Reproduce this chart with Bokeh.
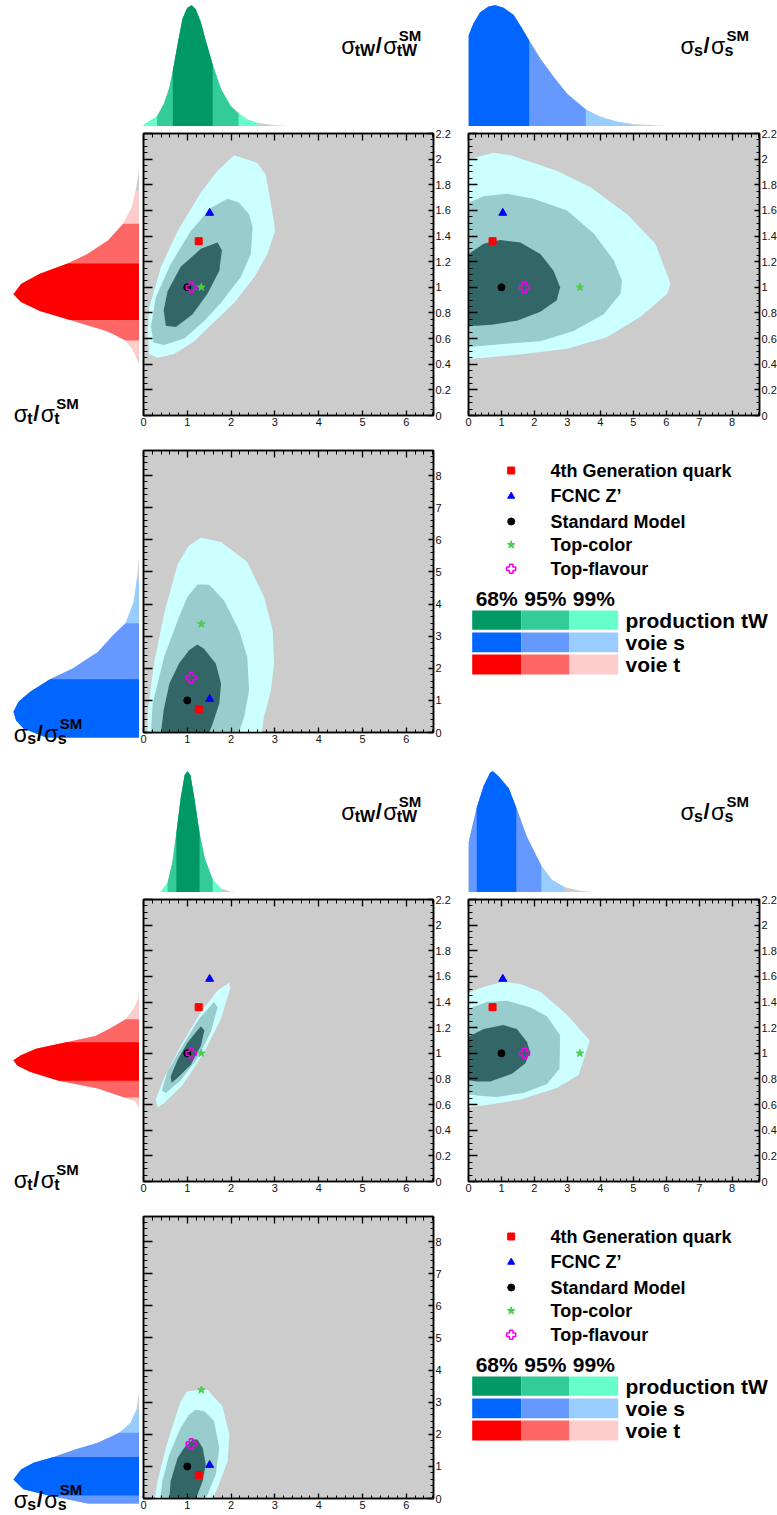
import numpy as np
from bokeh.plotting import figure
from bokeh.layouts import column, row
from bokeh.models import Range1d, LinearAxis, FixedTicker, CustomJSTickFormatter, Label, Spacer
from bokeh.embed import file_html
from bokeh.resources import INLINE
from bokeh.core.properties import value

FONT = "Liberation Sans"

# ---------------- data ----------------
model_names = ["4th Generation quark", "FCNC Z\u2019", "Standard Model", "Top-color", "Top-flavour"]
model_tw = [1.26, 1.51, 1.00, 1.32, 1.09]
model_t = [1.36, 1.58, 1.00, 1.00, 1.00]
model_s = [0.73, 1.04, 1.00, 3.38, 1.70]

conf_levels = ["68%", "95%", "99%"]
channel_names = ["production tW", "voie s", "voie t"]

# contours, top half (x, y) pairs
h1_tw_t_99 = [(2.07, 2.03), (2.60, 1.97), (2.79, 1.88), (2.98, 1.51), (3.00, 1.44), (2.83, 1.26), (2.53, 1.08),
              (2.07, 0.88), (1.61, 0.73), (1.16, 0.58), (0.70, 0.48), (0.32, 0.45), (0.13, 0.48), (0.09, 0.64),
              (0.13, 0.84), (0.40, 1.16), (0.78, 1.44), (1.31, 1.74), (1.69, 1.91)]
h1_tw_t_95 = [(1.92, 1.69), (2.18, 1.66), (2.41, 1.57), (2.49, 1.47), (2.45, 1.26), (2.22, 1.08), (1.77, 0.88),
              (1.39, 0.74), (0.93, 0.60), (0.47, 0.55), (0.23, 0.57), (0.17, 0.69), (0.28, 0.92), (0.62, 1.18),
              (1.08, 1.44), (1.54, 1.62)]
h1_tw_t_68 = [(1.69, 1.35), (1.79, 1.29), (1.73, 1.13), (1.46, 0.95), (1.12, 0.79), (0.74, 0.69), (0.51, 0.70),
              (0.46, 0.82), (0.55, 0.97), (0.85, 1.16), (1.31, 1.30)]
h1_s_t_99 = [(0, 0.44), (0, 2.00), (0.76, 2.05), (1.27, 2.03), (2.68, 1.91), (3.70, 1.78), (4.81, 1.57),
             (5.67, 1.34), (6.13, 1.03), (6.03, 0.95), (5.22, 0.77), (4.20, 0.61), (2.99, 0.52), (1.67, 0.48),
             (0.46, 0.45)]
h1_s_t_95 = [(0, 0.53), (0, 1.66), (0.46, 1.71), (1.16, 1.73), (1.97, 1.69), (2.99, 1.60), (3.80, 1.42),
             (4.41, 1.21), (4.66, 1.05), (4.61, 0.95), (4.10, 0.79), (3.19, 0.66), (2.18, 0.58), (1.16, 0.56),
             (0.25, 0.54)]
h1_s_t_68 = [(0, 0.70), (0, 1.26), (0.46, 1.34), (0.96, 1.37), (1.57, 1.35), (2.18, 1.26), (2.58, 1.13),
             (2.78, 1.00), (2.68, 0.90), (2.18, 0.81), (1.47, 0.74), (0.76, 0.71), (0.25, 0.70)]
h1_tw_s_99 = [(1.31, 6.06), (1.77, 5.93), (2.37, 5.31), (2.75, 4.22), (2.95, 3.18), (2.98, 2.15), (2.91, 1.32),
              (2.75, 0.49), (2.70, 0), (0.09, 0), (0.09, 0.59), (0.24, 2.15), (0.47, 3.70), (0.78, 5.25),
              (1.04, 5.82)]
h1_tw_s_95 = [(1.23, 4.61), (1.50, 4.60), (1.84, 4.11), (2.18, 3.18), (2.37, 2.35), (2.41, 1.32), (2.30, 0.49),
              (2.18, 0), (0.17, 0), (0.21, 0.90), (0.47, 2.35), (0.78, 3.49), (1.00, 4.22)]
h1_tw_s_68 = [(1.23, 2.74), (1.38, 2.61), (1.65, 2.15), (1.77, 1.52), (1.73, 0.90), (1.58, 0.28), (1.50, 0),
              (0.40, 0), (0.46, 0.69), (0.59, 1.52), (0.81, 2.15), (1.04, 2.56)]

# contours, bottom half
h2_tw_t_99 = [(1.96, 1.55), (1.98, 1.51), (1.77, 1.27), (1.39, 1.01), (0.89, 0.75), (0.47, 0.61), (0.32, 0.58),
              (0.28, 0.64), (0.47, 0.81), (0.85, 1.06), (1.31, 1.32), (1.69, 1.49)]
h2_tw_t_95 = [(1.61, 1.40), (1.69, 1.36), (1.54, 1.17), (1.23, 0.96), (0.85, 0.79), (0.51, 0.69), (0.42, 0.71),
              (0.55, 0.86), (0.89, 1.06), (1.27, 1.27)]
h2_tw_t_68 = [(1.31, 1.21), (1.39, 1.18), (1.31, 1.06), (1.08, 0.91), (0.78, 0.81), (0.64, 0.77), (0.62, 0.82),
              (0.78, 0.95), (1.00, 1.08), (1.23, 1.18)]
h2_s_t_99 = [(0, 0.58), (0, 1.47), (0.35, 1.51), (1.06, 1.56), (1.57, 1.54), (2.18, 1.48), (2.99, 1.30),
             (3.68, 1.10), (3.34, 0.83), (2.68, 0.73), (1.57, 0.64), (0.66, 0.60)]
h2_s_t_95 = [(0, 0.68), (0, 1.35), (0.56, 1.40), (1.16, 1.41), (1.87, 1.36), (2.38, 1.29), (2.78, 1.14),
             (2.76, 0.88), (2.38, 0.76), (1.67, 0.69), (0.86, 0.66), (0.25, 0.67)]
h2_s_t_68 = [(0, 0.79), (0, 1.13), (0.46, 1.19), (1.06, 1.22), (1.47, 1.19), (1.77, 1.09), (1.87, 1.01),
             (1.72, 0.92), (1.32, 0.84), (0.66, 0.78), (0.25, 0.78)]
h2_tw_s_99 = [(1.00, 3.34), (1.46, 3.39), (1.80, 2.87), (1.96, 1.99), (1.92, 1.16), (1.69, 0.33), (1.58, 0),
              (0.26, 0), (0.32, 0.54), (0.51, 1.58), (0.70, 2.41), (0.85, 3.03)]
h2_tw_s_95 = [(1.19, 2.77), (1.39, 2.72), (1.61, 2.41), (1.73, 1.58), (1.65, 0.75), (1.46, 0.12), (1.40, 0),
              (0.38, 0), (0.43, 0.54), (0.59, 1.37), (0.85, 2.20), (1.04, 2.61)]
h2_tw_s_68 = [(1.12, 1.84), (1.23, 1.84), (1.35, 1.58), (1.42, 1.06), (1.35, 0.54), (1.23, 0.12), (1.19, 0),
              (0.59, 0), (0.62, 0.54), (0.78, 1.27), (0.93, 1.58)]

# marginal distributions (position, relative density), intervals 99/95/68
h1_tw_pos = [0.00, 0.31, 0.47, 0.59, 0.67, 0.78, 0.89, 1.00, 1.10, 1.19, 1.31, 1.42, 1.58, 1.77, 1.99, 2.17, 2.37, 2.62, 2.98, 3.30, 3.60]
h1_tw_dens = [0.015, 0.085, 0.19, 0.32, 0.46, 0.68, 0.89, 0.98, 1.00, 0.97, 0.86, 0.71, 0.51, 0.31, 0.17, 0.11, 0.058, 0.028, 0.010, 0.004, 0.0]
h1_tw_bands = [(0.00, 2.62), (0.31, 2.17), (0.67, 1.58)]

h1_t_pos = [0.45, 0.51, 0.58, 0.64, 0.71, 0.80, 0.87, 0.94, 1.00, 1.08, 1.16, 1.24, 1.31, 1.42, 1.55, 1.68, 1.81, 1.94, 2.06]
h1_t_dens = [0.0, 0.026, 0.06, 0.11, 0.25, 0.55, 0.79, 0.94, 1.00, 0.94, 0.79, 0.57, 0.42, 0.25, 0.13, 0.06, 0.03, 0.008, 0.0]
h1_t_bands = [(0.51, 1.81), (0.64, 1.55), (0.80, 1.24)]

h1_s_pos = [0.00, 0.15, 0.35, 0.61, 0.81, 1.06, 1.37, 1.62, 1.84, 2.18, 2.58, 2.99, 3.56, 4.00, 4.51, 4.96, 5.72, 6.43]
h1_s_dens = [0.75, 0.85, 0.94, 0.99, 1.00, 0.98, 0.92, 0.81, 0.71, 0.56, 0.41, 0.27, 0.14, 0.08, 0.04, 0.02, 0.008, 0.0]
h1_s_bands = [(0.00, 4.96), (0.00, 3.56), (0.00, 1.84)]

h1_sl_pos = [0.00, 0.28, 0.54, 0.80, 1.11, 1.42, 1.81, 2.15, 2.66, 3.18, 3.56, 4.22, 4.95, 5.77]
h1_sl_dens = [0.74, 0.92, 0.98, 1.00, 0.96, 0.87, 0.71, 0.53, 0.33, 0.21, 0.11, 0.046, 0.02, 0.0]
h1_sl_bands = [(0.00, 4.95), (0.00, 3.56), (0.00, 1.81)]

h2_tw_pos = [0.36, 0.40, 0.55, 0.66, 0.75, 0.85, 0.94, 1.00, 1.07, 1.16, 1.28, 1.40, 1.58, 1.77, 1.99, 2.22]
h2_tw_dens = [0.0, 0.01, 0.08, 0.25, 0.49, 0.78, 0.97, 1.00, 0.97, 0.78, 0.49, 0.28, 0.105, 0.034, 0.008, 0.0]
h2_tw_bands = [(0.40, 1.77), (0.55, 1.58), (0.75, 1.28)]

h2_t_pos = [0.60, 0.64, 0.68, 0.71, 0.78, 0.84, 0.91, 0.96, 1.00, 1.04, 1.09, 1.14, 1.19, 1.25, 1.32, 1.40, 1.48, 1.58]
h2_t_dens = [0.0, 0.01, 0.033, 0.12, 0.33, 0.64, 0.87, 0.97, 1.00, 0.94, 0.82, 0.58, 0.35, 0.23, 0.11, 0.046, 0.01, 0.0]
h2_t_bands = [(0.64, 1.48), (0.71, 1.32), (0.84, 1.14)]

h2_s_pos = [0.00, 0.25, 0.46, 0.66, 0.74, 0.91, 1.22, 1.45, 1.77, 2.21, 2.53, 2.91, 3.39, 4.00]
h2_s_dens = [0.41, 0.70, 0.88, 0.99, 1.00, 0.96, 0.86, 0.70, 0.46, 0.22, 0.105, 0.045, 0.013, 0.0]
h2_s_bands = [(0.00, 2.91), (0.00, 2.21), (0.25, 1.45)]

h2_sl_pos = [0.00, 0.25, 0.44, 0.75, 1.06, 1.27, 1.45, 1.68, 1.89, 2.20, 2.51, 2.90, 3.34, 3.76]
h2_sl_dens = [0.41, 0.72, 0.92, 1.00, 0.94, 0.84, 0.68, 0.51, 0.33, 0.16, 0.072, 0.026, 0.008, 0.0]
h2_sl_bands = [(0.00, 2.90), (0.00, 2.20), (0.25, 1.45)]

# ---------------- styles / layout ----------------
CONT = ["#ccffff", "#99cccc", "#336666"]          # 99, 95, 68
GREEN = ["#66ffcc", "#33cc99", "#009966"]
BLUE = ["#99ccff", "#6699ff", "#0066ff"]
RED = ["#ffcccc", "#ff6666", "#ff0000"]
TAIL = "#cccccc"

W0 = 139
FW1, BL1, BR1 = 290, 4, 31
FW2, BL2, BR2 = 291, 4, 18
FH = 282
HA = 126
BT_B, BB_B = 7, 30
BT_C, BB_C = 5, 14
GAP = 20

TW_MAX, S_MAX, T_MAX, SY_MAX = 6.62, 8.83, 2.2, 8.78
PEAK_PAD = 1.04          # density axis head-room of the marginal plots
SIDE_PEAK_PX = 13        # left marginal plots: peak distance from left edge

LABEL_FMT = CustomJSTickFormatter(code="return String(Math.round(tick*10)/10);")
HIDE_FMT = CustomJSTickFormatter(code="return '';")


def steps(lo, hi, step):
    n = int(np.floor((hi - lo) / step + 1e-9))
    return [round(lo + i * step, 4) for i in range(n + 1)]


def base_fig(xr, yr, fw, fh, bl, br, bt, bb, bg=None):
    p = figure(x_range=xr, y_range=yr, frame_width=fw, frame_height=fh,
               min_border_left=bl, min_border_right=br, min_border_top=bt, min_border_bottom=bb,
               x_axis_location=None, y_axis_location=None, toolbar_location=None,
               output_backend="svg", outline_line_color=None)
    p.grid.visible = False
    if bg:
        p.background_fill_color = bg
    return p


def add_axes(p, xmaj, xmin, ymaj, ymin):
    specs = [("below", xmaj, xmin, 5, 3, True), ("above", xmaj, xmin, 7, 4, False),
             ("left", ymaj, ymin, 9, 4, False), ("right", ymaj, ymin, 5, 3, True)]
    for loc, maj, mnr, tin, tmin, show in specs:
        ax = LinearAxis(ticker=FixedTicker(ticks=maj, minor_ticks=mnr),
                        formatter=LABEL_FMT if show else HIDE_FMT,
                        major_tick_in=tin, major_tick_out=0, minor_tick_in=tmin, minor_tick_out=0,
                        axis_line_color="black", axis_line_width=1.5,
                        major_tick_line_width=1.3, minor_tick_line_width=1.0,
                        major_label_text_font=FONT,
                        major_label_text_font_size="11px" if show else "0px",
                        major_label_standoff=2 if show else 0,
                        major_label_text_color="#111111")
        p.add_layout(ax, loc)


def panel(xr, yr, fw, bl, br, bt, bb, xmaj, xmin, ymaj, ymin):
    p = base_fig(xr, yr, fw, FH, bl, br, bt, bb, bg="#cccccc")
    p.outline_line_color = "black"
    p.outline_line_width = 1.5
    add_axes(p, xmaj, xmin, ymaj, ymin)
    return p


def draw_contours(p, c99, c95, c68):
    for poly, col in zip([c99, c95, c68], CONT):
        p.patch(x=[a for a, b in poly], y=[b for a, b in poly], fill_color=col, line_color=None)


def draw_models(p, xs, ys):
    p.scatter(x=[xs[2]], y=[ys[2]], marker="circle", size=7, fill_color="black", line_color="black")
    p.scatter(x=[xs[0]], y=[ys[0]], marker="square", size=7, fill_color="#ff0000", line_color="#ff0000")
    p.scatter(x=[xs[1]], y=[ys[1]], marker="triangle", size=8, fill_color="#0000ff", line_color="#0000ff")
    p.scatter(x=[xs[3]], y=[ys[3]], marker="star", size=8, fill_color="#4ccc4c", line_color="#4ccc4c")
    p.scatter(x=[xs[4]], y=[ys[4]], marker="plus", size=10, fill_color=None, line_color="#ee00ee",
              line_width=1.6)


def draw_dist(p, pos, dens, bands, cols, horizontal):
    pos = np.array(pos)
    dens = np.array(dens)
    if horizontal:
        p.harea(y=pos, x1=0, x2=dens, fill_color=TAIL)
    else:
        p.varea(x=pos, y1=0, y2=dens, fill_color=TAIL)
    for (lo, hi), c in zip(bands, cols):
        m = (pos >= lo - 1e-9) & (pos <= hi + 1e-9)
        if horizontal:
            p.harea(y=pos[m], x1=0, x2=dens[m], fill_color=c)
        else:
            p.varea(x=pos[m], y1=0, y2=dens[m], fill_color=c)


SUBW = {"tW": 21.0, "t": 6.0, "s": 9.5}


def ratio_title(p, fh, x0, yb, sub):
    """x0: px from frame left, yb: baseline px from frame top."""
    w = SUBW[sub]
    xs2 = 13.5 + w + 7.5
    parts = [("\u03c3", 0, 0, "23px", "normal"), (sub, 13.5, 5, "16px", "bold"),
             ("/", 13.5 + w, 0, "22px", "bold"), ("\u03c3", xs2, 0, "23px", "normal"),
             ("SM", xs2 + 15.5, -10, "15px", "bold"), (sub, xs2 + 13.5, 5, "16px", "bold")]
    for t, dx, dy, size, style in parts:
        p.add_layout(Label(x=x0 + dx, y=fh - (yb + dy), x_units="screen", y_units="screen", text=t,
                           text_font=FONT, text_font_size=size, text_font_style=style,
                           text_color="black", text_baseline="alphabetic", text_align="left"))


def side_fig(ymax, bt, bb):
    """Left marginal plot whose frame fills its whole canvas, aligned with a panel's y axis."""
    h = bt + FH + bb
    upp = ymax / FH
    yr = Range1d(-bb * upp, ymax + bt * upp)
    xr = Range1d(1.0 / (1.0 - SIDE_PEAK_PX / W0), 0)
    return base_fig(xr, yr, W0, h, 0, 0, 0, 0), h


def legend_fig():
    W, H = BL2 + FW2 + BR2, BT_C + FH + BB_C
    p = base_fig(Range1d(0, W), Range1d(H, 0), W, H, 0, 0, 0, 0)
    mx, tx = 46.7, 86
    rows_y = [20, 45.7, 71, 94.3, 118.3]
    p.scatter(x=[mx], y=[rows_y[0]], marker="square", size=7, fill_color="#ff0000", line_color="#ff0000")
    p.scatter(x=[mx], y=[rows_y[1]], marker="triangle", size=7, fill_color="#0000ff", line_color="#0000ff")
    p.scatter(x=[mx], y=[rows_y[2]], marker="circle", size=7, fill_color="black", line_color="black")
    p.scatter(x=[mx], y=[rows_y[3]], marker="star", size=8, fill_color="#4ccc4c", line_color="#4ccc4c")
    p.scatter(x=[mx], y=[rows_y[4]], marker="plus", size=9, fill_color=None, line_color="#ee00ee",
              line_width=1.5)
    p.text(x=[tx] * 5, y=rows_y, text=model_names, text_font=value(FONT), text_font_size=value("18px"),
           text_font_style="bold", text_baseline="middle", text_color="black")
    col_edges = [7.7, 56.7, 105, 153.7]
    row_edges = [(160, 179.3), (182, 201.7), (204, 224)]
    palettes = [GREEN[::-1], BLUE[::-1], RED[::-1]]
    for (top, bot), pal in zip(row_edges, palettes):
        p.quad(left=col_edges[:3], right=col_edges[1:], top=[top] * 3, bottom=[bot] * 3,
               fill_color=pal, line_color=None)
    centers = [(col_edges[i] + col_edges[i + 1]) / 2 for i in range(3)]
    p.text(x=centers, y=[148] * 3, text=conf_levels, text_font=value(FONT), text_font_size=value("21px"),
           text_font_style="bold", text_baseline="middle", text_align="center", text_color="black")
    p.text(x=[161] * 3, y=[(a + b) / 2 for a, b in row_edges], text=channel_names, text_font=value(FONT),
           text_font_size=value("21px"), text_font_style="bold", text_baseline="middle", text_color="black")
    return p


def build_half(c_tw_t, c_s_t, c_tw_s, d_tw, d_t, d_s, d_sl):
    xr_tw = Range1d(0, TW_MAX)
    xr_s = Range1d(0, S_MAX)
    yr_t = Range1d(0, T_MAX)
    yr_s = Range1d(0, SY_MAX)

    tw_maj, tw_min = steps(0, 6, 1), steps(0, TW_MAX, 0.2)
    s_maj, s_min = steps(0, 8, 1), steps(0, S_MAX, 0.2)
    t_maj, t_min = steps(0, 2.2, 0.2), steps(0, 2.2, 0.05)
    sy_maj, sy_min = steps(0, 8, 1), steps(0, SY_MAX, 0.2)

    # row A: marginal plots above the panels
    g = base_fig(xr_tw, Range1d(0, PEAK_PAD), FW1, HA, BL1, BR1, 0, 0)
    draw_dist(g, *d_tw, GREEN, horizontal=False)
    ratio_title(g, HA, 197.7, 45, "tW")
    b = base_fig(xr_s, Range1d(0, PEAK_PAD), FW2, HA, BL2, BR2, 0, 0)
    draw_dist(b, *d_s, BLUE, horizontal=False)
    ratio_title(b, HA, 212, 45, "s")
    rowA = row(Spacer(width=W0, height=HA), g, b)

    # row B
    r, rh = side_fig(T_MAX, BT_B, BB_B)
    draw_dist(r, *d_t, RED, horizontal=True)
    ratio_title(r, rh, 13.3, 280, "t")
    tl = panel(xr_tw, yr_t, FW1, BL1, BR1, BT_B, BB_B, tw_maj, tw_min, t_maj, t_min)
    draw_contours(tl, *c_tw_t)
    draw_models(tl, model_tw, model_t)
    tr = panel(xr_s, yr_t, FW2, BL2, BR2, BT_B, BB_B, s_maj, s_min, t_maj, t_min)
    draw_contours(tr, *c_s_t)
    draw_models(tr, model_s, model_t)
    rowB = row(r, tl, tr)

    # row C
    sl, sh = side_fig(SY_MAX, BT_C, BB_C)
    draw_dist(sl, *d_sl, BLUE, horizontal=True)
    ratio_title(sl, sh, 13.3, 283, "s")
    bl = panel(xr_tw, yr_s, FW1, BL1, BR1, BT_C, BB_C, tw_maj, tw_min, sy_maj, sy_min)
    draw_contours(bl, *c_tw_s)
    draw_models(bl, model_tw, model_s)
    rowC = row(sl, bl, legend_fig())
    return column(rowA, rowB, rowC)


half1 = build_half((h1_tw_t_99, h1_tw_t_95, h1_tw_t_68), (h1_s_t_99, h1_s_t_95, h1_s_t_68),
                   (h1_tw_s_99, h1_tw_s_95, h1_tw_s_68),
                   (h1_tw_pos, h1_tw_dens, h1_tw_bands), (h1_t_pos, h1_t_dens, h1_t_bands),
                   (h1_s_pos, h1_s_dens, h1_s_bands), (h1_sl_pos, h1_sl_dens, h1_sl_bands))
half2 = build_half((h2_tw_t_99, h2_tw_t_95, h2_tw_t_68), (h2_s_t_99, h2_s_t_95, h2_s_t_68),
                   (h2_tw_s_99, h2_tw_s_95, h2_tw_s_68),
                   (h2_tw_pos, h2_tw_dens, h2_tw_bands), (h2_t_pos, h2_t_dens, h2_t_bands),
                   (h2_s_pos, h2_s_dens, h2_s_bands), (h2_sl_pos, h2_sl_dens, h2_sl_bands))

layout = column(half1, Spacer(width=W0 + BL1 + FW1 + BR1 + BL2 + FW2 + BR2, height=GAP), half2)

open("out.html", "w").write(file_html(layout, INLINE))
